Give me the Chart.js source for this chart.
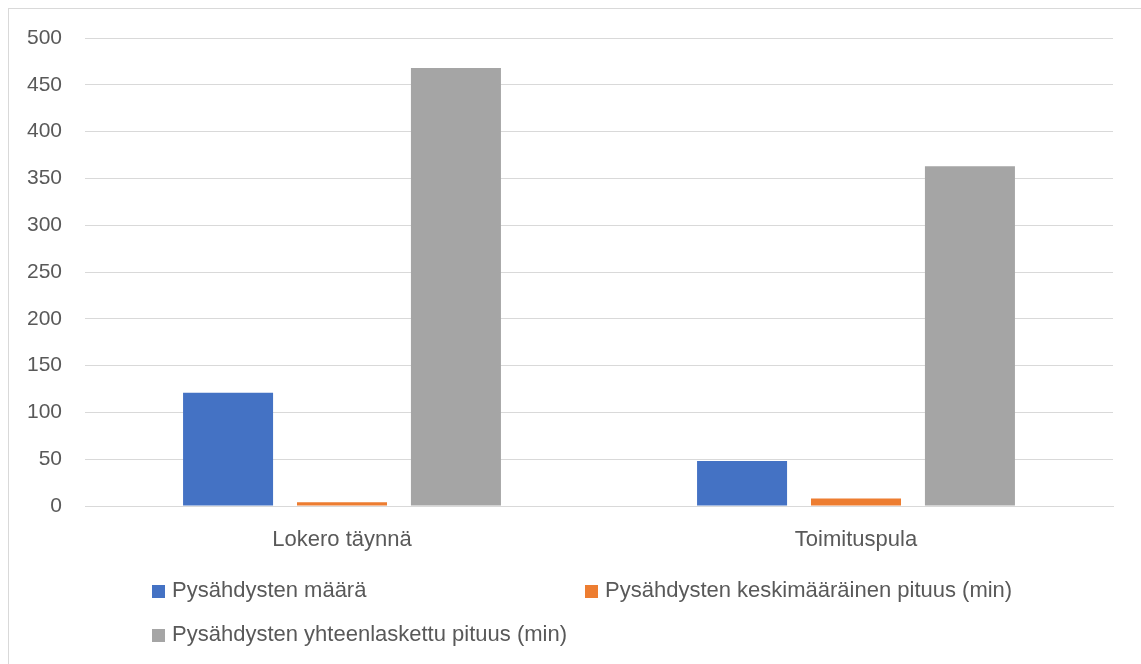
<!DOCTYPE html>
<html>
<head>
<meta charset="utf-8">
<script src="https://cdn.jsdelivr.net/npm/chart.js@4"></script>
<style>
  body { margin: 0; background: #fff; }
  #wrap { position: relative; width: 1141px; height: 664px; }
  #frame { position: absolute; left: 8px; top: 8px; width: 1140px; height: 660px; border: 1px solid #d9d9d9; box-sizing: border-box; }
  canvas { position: absolute; left: 0; top: 0; }
  .leg { position: absolute; font: 22px "Liberation Sans", Arial, sans-serif; color: #595959; white-space: nowrap; line-height: 24px; }
  .leg span { display: inline-block; width: 13px; height: 13px; margin-right: 7px; vertical-align: -1px; }
</style>
</head>
<body>
<div id="wrap">
  <div id="frame"></div>
  <canvas id="myChart" width="1141" height="664"></canvas>
  <div id="legend"></div>
</div>
<script>
const categories = ['Lokero täynnä', 'Toimituspula'];
const seriesNames = ['Pysähdysten määrä', 'Pysähdysten keskimääräinen pituus (min)', 'Pysähdysten yhteenlaskettu pituus (min)'];
const maara = [121, 48];
const keskiPituus = [4, 8];
const yhteenPituus = [468, 363];
const seriesColors = ['#4472C4', '#ED7D31', '#A5A5A5'];
const legendPos = [[152, 578], [585, 578], [152, 622]];

const fontFamily = '"Liberation Sans", Arial, sans-serif';

const data = {
  labels: categories,
  datasets: [maara, keskiPituus, yhteenPituus].map((vals, i) => ({
    label: seriesNames[i],
    data: vals,
    backgroundColor: seriesColors[i],
    categoryPercentage: 0.665,
    barPercentage: 0.79
  }))
};

const myChart = new Chart(document.getElementById('myChart'), {
  type: 'bar',
  data: data,
  options: {
    responsive: false,
    animation: false,
    layout: { padding: { top: 38, right: 28, bottom: 108, left: 0 } },
    scales: {
      y: {
        min: 0,
        max: 500,
        ticks: { stepSize: 50, padding: 23, color: '#595959', font: { family: fontFamily, size: 21 } },
        grid: { color: '#d9d9d9', drawTicks: false },
        border: { display: false },
        afterFit: scale => { scale.width = 85; }
      },
      x: {
        ticks: { padding: 21, color: '#595959', font: { family: fontFamily, size: 22 } },
        grid: { display: false, drawTicks: false },
        border: { color: '#d9d9d9' },
        afterFit: scale => { scale.height = 50; }
      }
    },
    plugins: {
      legend: { display: false },
      tooltip: { enabled: false }
    }
  }
});

// legend in two columns, like the original
const legendEl = document.getElementById('legend');
seriesNames.forEach((name, i) => {
  const d = document.createElement('div');
  d.className = 'leg';
  d.style.left = legendPos[i][0] + 'px';
  d.style.top = legendPos[i][1] + 'px';
  d.innerHTML = '<span style="background:' + seriesColors[i] + '"></span>' + name;
  legendEl.appendChild(d);
});
</script>
</body>
</html>
